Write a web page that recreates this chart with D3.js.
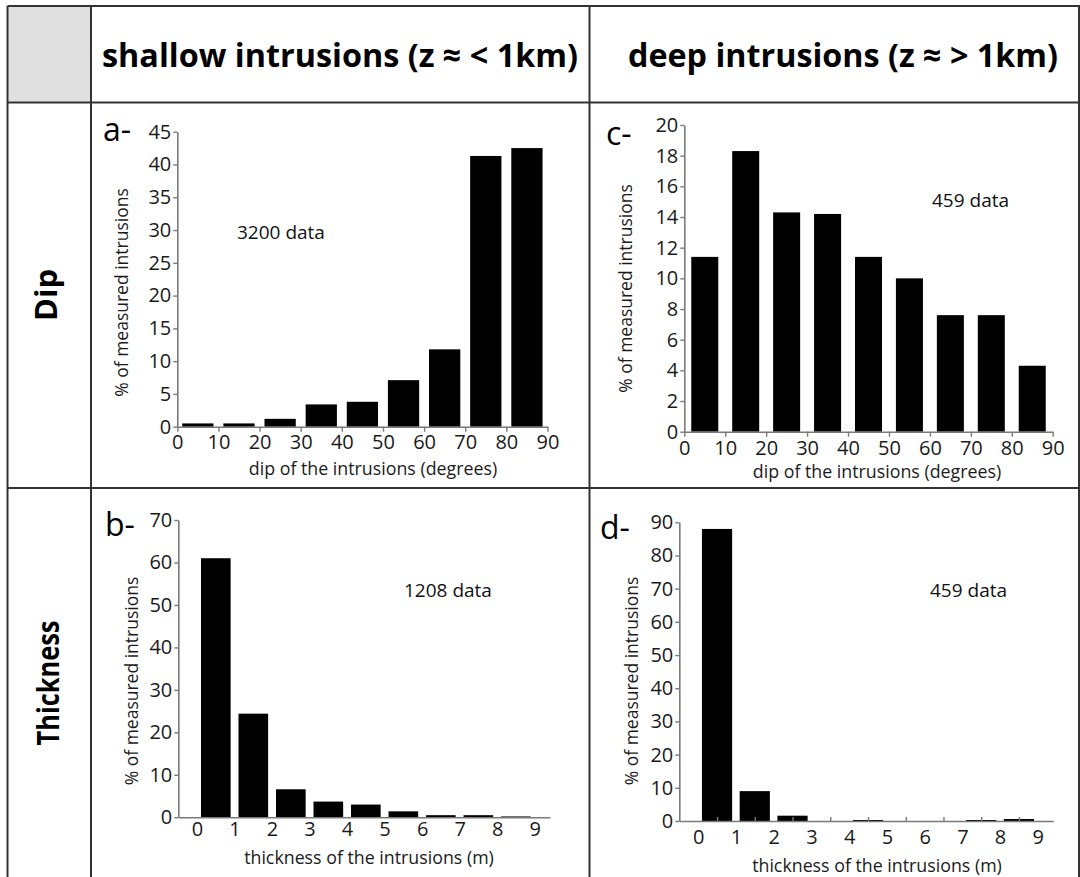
<!DOCTYPE html>
<html><head><meta charset="utf-8">
<script src="https://cdn.jsdelivr.net/npm/d3@7"></script>
<style>body{margin:0;background:#fff} svg{display:block}</style>
</head><body><svg id="c" width="1080" height="877"></svg>
<script>
// ---- data ----
const headers = ["shallow intrusions (z \u2248 < 1km)", "deep intrusions (z \u2248 > 1km)"];
const rowLabels = ["Dip", "Thickness"];
const dipTicks = [0, 10, 20, 30, 40, 50, 60, 70, 80, 90];
const thickTicks = [0, 1, 2, 3, 4, 5, 6, 7, 8, 9];
const dipShallowTicks = [0, 5, 10, 15, 20, 25, 30, 35, 40, 45];
const dipDeepTicks = [0, 2, 4, 6, 8, 10, 12, 14, 16, 18, 20];
const thickShallowTicks = [0, 10, 20, 30, 40, 50, 60, 70];
const thickDeepTicks = [0, 10, 20, 30, 40, 50, 60, 70, 80, 90];
const dipShallow = [0.5, 0.5, 1.2, 3.4, 3.8, 7.1, 11.8, 41.3, 42.5];
const dipDeep = [11.4, 18.3, 14.3, 14.2, 11.4, 10.0, 7.6, 7.6, 4.3];
const thickShallow = [61.0, 24.4, 6.6, 3.7, 3.0, 1.4, 0.5, 0.5, 0.2];
const thickDeep = [88.0, 9.0, 1.6, 0, 0.3, 0, 0, 0.3, 0.6];
const notes = ["3200 data", "459 data", "1208 data", "459 data"];
const tags = ["a-", "c-", "b-", "d-"];
const yTitle = "% of measured intrusions";
const dipTitle = "dip of the intrusions (degrees)";
const thickTitle = "thickness of the intrusions (m)";

const svg = d3.select("#c");
const FONT = "'Open Sans', 'DejaVu Sans', sans-serif";
const HFONT = "'Liberation Sans Narrow', 'Open Sans', sans-serif";
const LINE = "#333";

// ---- table grid ----
svg.append("rect").attr("x", 7.5).attr("y", 6).attr("width", 83.5).attr("height", 96.5).attr("fill", "#e0e0e0");
const grid = svg.append("g").attr("stroke", LINE).attr("stroke-width", 2).attr("fill", "none");
grid.append("line").attr("x1", 7.5).attr("x2", 1080).attr("y1", 6).attr("y2", 6);
grid.append("line").attr("x1", 7.5).attr("x2", 1080).attr("y1", 102.5).attr("y2", 102.5);
grid.append("line").attr("x1", 7.5).attr("x2", 1080).attr("y1", 488).attr("y2", 488);
grid.append("line").attr("x1", 7.5).attr("x2", 7.5).attr("y1", 6).attr("y2", 877);
grid.append("line").attr("x1", 91).attr("x2", 91).attr("y1", 6).attr("y2", 877);
grid.append("line").attr("x1", 589.5).attr("x2", 589.5).attr("y1", 6).attr("y2", 877);
grid.append("line").attr("x1", 1079).attr("x2", 1079).attr("y1", 6).attr("y2", 877);

// headers
[[340, 476], [843, 430]].forEach(([cx, w], i) => {
  svg.append("text").attr("x", cx).attr("y", 67).attr("text-anchor", "middle")
    .attr("font-family", HFONT).attr("font-weight", "bold").attr("font-size", 33)
    .attr("textLength", w).attr("lengthAdjust", "spacingAndGlyphs")
    .attr("fill", "#000").text(headers[i]);
});
// row labels
[[57, 295, 52], [59, 683, 125]].forEach(([bx, cy, w], i) => {
  svg.append("text").attr("transform", `translate(${bx},${cy}) rotate(-90)`)
    .attr("text-anchor", "middle").attr("font-family", HFONT).attr("font-weight", "bold")
    .attr("font-size", 31).attr("textLength", w).attr("lengthAdjust", "spacingAndGlyphs")
    .attr("fill", "#000").text(rowLabels[i]);
});

// ---- panels ----
const panels = [
  { values: dipShallow, binW: 10, xDomain: [0, 90], xRange: [177.3, 547.5], yTicks: dipShallowTicks,
    yRange: [426.7, 131.7], inset: 0.12, xTicks: dipTicks, xTickSize: 5, xPad: 3, cat: false,
    tag: tags[0], tagX: 103, tagY: 141, note: notes[0], noteX: 237, noteY: 239,
    yLab: [128, 292.5], xLab: [373, 475], xTitle: dipTitle },
  { values: dipDeep, binW: 10, xDomain: [0, 90], xRange: [684.3, 1052.7], yTicks: dipDeepTicks,
    yRange: [431.7, 125], inset: 0.17, xTicks: dipTicks, xTickSize: 5, xPad: 4, cat: false,
    tag: tags[1], tagX: 606, tagY: 145, note: notes[1], noteX: 932, noteY: 207,
    yLab: [632, 288.5], xLab: [877, 478], xTitle: dipTitle },
  { values: thickShallow, binW: 1, xDomain: [-0.5, 9.41], xRange: [178.3, 550], yTicks: thickShallowTicks,
    yRange: [817.3, 520], inset: 0.105, xTicks: thickTicks, xTickSize: 0, xPad: 4, cat: false,
    tag: tags[2], tagX: 105, tagY: 536, note: notes[2], noteX: 404, noteY: 597,
    yLab: [138, 681], xLab: [369, 864], xTitle: thickTitle },
  { values: thickDeep, binW: 1, xDomain: [-0.5, 9.41], xRange: [679.3, 1053.3], yTicks: thickDeepTicks,
    yRange: [821, 522.3], inset: 0.10, xTicks: thickTicks, xTickSize: 0, xPad: 9, cat: true,
    tag: tags[3], tagX: 600, tagY: 539, note: notes[3], noteX: 930, noteY: 597,
    yLab: [637.5, 681], xLab: [877, 872], xTitle: thickTitle }
];

function styleAxis(g) {
  g.attr("font-size", null).attr("font-family", null);
  g.selectAll(".domain").attr("stroke", "#7a7a7a").attr("stroke-width", 1.6);
  g.selectAll(".tick line").attr("stroke", "#7a7a7a").attr("stroke-width", 1.4);
  g.selectAll(".tick text").attr("fill", "#1a1a1a").style("font-family", FONT).style("font-size", "20px");
}

panels.forEach(p => {
  const g = svg.append("g");
  const x = d3.scaleLinear().domain(p.xDomain).range(p.xRange);
  const yMax = d3.max(p.yTicks);
  const y = d3.scaleLinear().domain([0, yMax]).range(p.yRange);
  const bw = x(p.binW) - x(0);

  // bars
  g.selectAll("rect.bar").data(p.values).join("rect").attr("class", "bar")
    .attr("x", (d, i) => x(i * p.binW) + bw * p.inset)
    .attr("width", bw * (1 - 2 * p.inset))
    .attr("y", d => y(d))
    .attr("height", d => y(0) - y(d))
    .attr("fill", "#000");

  // y axis
  const ya = g.append("g").attr("transform", `translate(${x(p.xDomain[0])},0)`)
    .call(d3.axisLeft(y).tickValues(p.yTicks).tickSizeInner(4).tickSizeOuter(0).tickPadding(2).tickFormat(d3.format("d")));
  styleAxis(ya);

  // x axis
  const xa = g.append("g").attr("transform", `translate(0,${y(0)})`)
    .call(d3.axisBottom(x).tickValues(p.xTicks).tickSizeInner(p.xTickSize).tickSizeOuter(0).tickPadding(p.xPad).tickFormat(d3.format("d")));
  styleAxis(xa);
  if (p.cat) {
    const ca = g.append("g").attr("transform", `translate(0,${y(0)})`)
      .call(d3.axisBottom(x).tickValues(p.values.map((v, i) => i * p.binW + p.binW / 2)).tickSizeInner(-4).tickSizeOuter(0).tickFormat(""));
    ca.select(".domain").remove();
    styleAxis(ca);
  }

  // titles
  g.append("text").attr("transform", `translate(${p.yLab[0]},${p.yLab[1]}) rotate(-90)`)
    .attr("text-anchor", "middle").attr("font-family", FONT).attr("font-size", 17.5).attr("fill", "#1a1a1a")
    .text(yTitle);
  g.append("text").attr("x", p.xLab[0]).attr("y", p.xLab[1]).attr("text-anchor", "middle")
    .attr("font-family", FONT).attr("font-size", 17.8).attr("fill", "#1a1a1a").text(p.xTitle);
  g.append("text").attr("x", p.noteX).attr("y", p.noteY).attr("font-family", FONT).attr("font-size", 19)
    .attr("fill", "#111").text(p.note);
  g.append("text").attr("x", p.tagX).attr("y", p.tagY).attr("font-family", FONT).attr("font-size", 32)
    .attr("fill", "#000").text(p.tag);
});
</script>
</body></html>
